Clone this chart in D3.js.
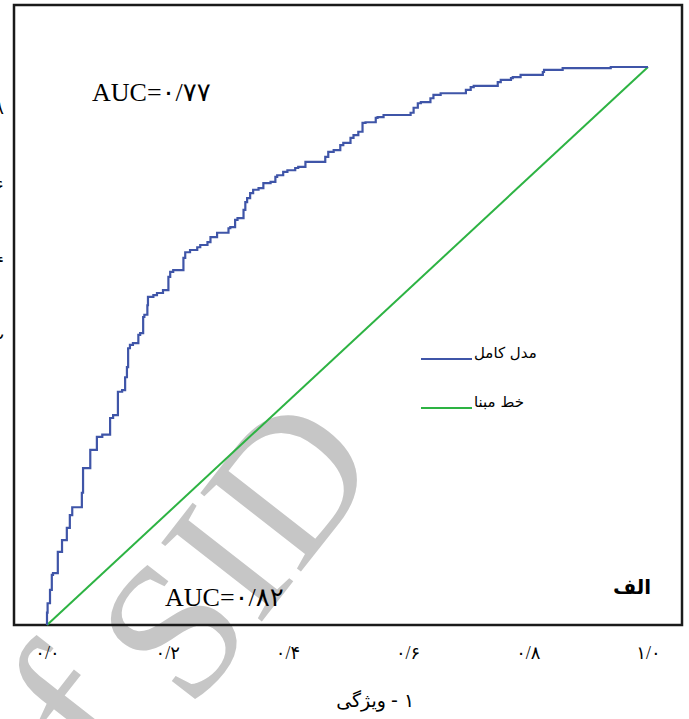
<!DOCTYPE html>
<html>
<head>
<meta charset="utf-8">
<script src="https://cdn.jsdelivr.net/npm/d3@7"></script>
<style>
  body { margin: 0; background: #fff; }
  svg { display: block; }
</style>
</head>
<body>
<div id="chart"></div>
<script>
// ROC data (1 - specificity, sensitivity)
var fpr = [0, 0.001, 0.005, 0.008, 0.010, 0.018, 0.025, 0.033, 0.038, 0.042, 0.050, 0.058, 0.060,
  0.067, 0.072, 0.083, 0.092, 0.105, 0.110, 0.118, 0.125, 0.130, 0.133, 0.135, 0.138, 0.143,
  0.152, 0.155, 0.160, 0.162, 0.167, 0.168, 0.177, 0.183, 0.193, 0.193, 0.202, 0.205, 0.210,
  0.227, 0.230, 0.238, 0.250, 0.255, 0.267, 0.272, 0.283, 0.292, 0.302, 0.305, 0.313, 0.317,
  0.327, 0.330, 0.333, 0.338, 0.343, 0.352, 0.360, 0.372, 0.380, 0.383, 0.393, 0.400, 0.413,
  0.418, 0.430, 0.433, 0.463, 0.468, 0.477, 0.488, 0.493, 0.505, 0.510, 0.518, 0.525, 0.530,
  0.547, 0.550, 0.560, 0.605, 0.610, 0.617, 0.622, 0.638, 0.643, 0.655, 0.697, 0.705, 0.710,
  0.750, 0.755, 0.772, 0.775, 0.788, 0.825, 0.827, 0.858, 0.860, 0.938, 0.942, 1.0];
var tpr = [0, 0.022, 0.039, 0.063, 0.090, 0.093, 0.131, 0.152, 0.174, 0.197, 0.211, 0.211, 0.237,
  0.281, 0.281, 0.314, 0.337, 0.341, 0.371, 0.376, 0.418, 0.421, 0.444, 0.462, 0.496, 0.502,
  0.505, 0.520, 0.523, 0.552, 0.556, 0.573, 0.588, 0.591, 0.595, 0.600, 0.600, 0.624, 0.633,
  0.636, 0.658, 0.668, 0.672, 0.677, 0.681, 0.686, 0.695, 0.703, 0.703, 0.711, 0.713, 0.726,
  0.729, 0.744, 0.758, 0.765, 0.774, 0.780, 0.783, 0.792, 0.794, 0.803, 0.806, 0.812, 0.815,
  0.819, 0.821, 0.830, 0.830, 0.839, 0.848, 0.851, 0.860, 0.864, 0.873, 0.878, 0.884, 0.900,
  0.901, 0.909, 0.910, 0.914, 0.918, 0.927, 0.935, 0.937, 0.944, 0.950, 0.953, 0.959, 0.964,
  0.966, 0.973, 0.977, 0.980, 0.982, 0.986, 0.991, 0.995, 0.998, 0.998, 1.0, 1.0];
var baseline = [0, 1];

var xTicks = [0, 0.2, 0.4, 0.6, 0.8, 1.0];
var xTickLabels = ["۰/۰", "۰/۲", "۰/۴", "۰/۶", "۰/۸", "۱/۰"];
// y labels are cut off at the left edge of the picture
var yTicks = [0.8, 0.6, 0.4, 0.2];
var yTickLabels = ["۰/۸", "۰/۶", "۰/۴", "۰/۲"];

var legendNames = ["مدل کامل", "خط مبنا"];
var legendColors = ["#3f55a8", "#2db343"];
var aucLabels = ["AUC=۰/۷۷", "AUC=۰/۸۲"];
// axis title "ویژگی - ۱", in two pieces so the word stays on the left
var xTitleWord = "ویژگی";
var xTitleRest = "- ۱";
var panelLabel = "الف";

var svgWidth = 689;
var svgHeight = 719;

var svg = d3.select("#chart")
    .append("svg")
    .attr("width", svgWidth)
    .attr("height", svgHeight);

var xScale = d3.scaleLinear().domain([0, 1]).range([47, 648]);
var yScale = d3.scaleLinear().domain([0, 1]).range([625, 67]);
// the clipped label column does not line up with the plot scale
var yLabelScale = d3.scaleLinear().domain([0.2, 0.8]).range([340, 108]);

// watermark behind everything
var wm = svg.append("text")
    .attr("transform", "translate(44, 868) rotate(-52)")
    .attr("font-family", "Liberation Serif")
    .attr("font-size", 215)
    .attr("fill", "#c6c6c6");
wm.append("tspan").text("of ");
wm.append("tspan")
    .attr("dx", -20)
    .attr("dy", 20)
    .attr("font-size", 195)
    .text("SID");

// frame
svg.append("rect")
    .attr("x", 14)
    .attr("y", 5)
    .attr("width", 668)
    .attr("height", 620)
    .attr("fill", "none")
    .attr("stroke", "#1a1a1a")
    .attr("stroke-width", 2.5);

var line = d3.line()
    .x(d => xScale(d[0]))
    .y(d => yScale(d[1]))
    .curve(d3.curveStepBefore);

svg.append("path")
    .datum(baseline.map(v => [v, v]))
    .attr("d", d3.line().x(d => xScale(d[0])).y(d => yScale(d[1])))
    .attr("fill", "none")
    .attr("stroke", legendColors[1])
    .attr("stroke-width", 2);

svg.append("path")
    .datum(fpr.map((v, i) => [v, tpr[i]]))
    .attr("d", line)
    .attr("fill", "none")
    .attr("stroke", legendColors[0])
    .attr("stroke-width", 2.2);

// x axis labels (no tick marks)
var xAxis = d3.axisBottom(xScale)
    .tickValues(xTicks)
    .tickSize(0)
    .tickPadding(0)
    .tickFormat((d, i) => xTickLabels[i]);

var xg = svg.append("g")
    .attr("transform", "translate(0, 646)")
    .call(xAxis);
xg.select(".domain").remove();
xg.selectAll("text")
    .attr("font-family", "Liberation Serif, DejaVu Sans")
    .attr("font-size", 18)
    .attr("fill", "#000")
    .attr("dy", "0.71em");

// clipped y labels
svg.append("g")
    .selectAll("text")
    .data(yTicks)
    .enter()
    .append("text")
    .attr("x", 4)
    .attr("y", d => yLabelScale(d))
    .attr("dy", "0.35em")
    .attr("text-anchor", "end")
    .attr("font-family", "Liberation Serif, DejaVu Sans")
    .attr("font-size", 18)
    .text((d, i) => yTickLabels[i]);

svg.append("text")
    .attr("x", 386)
    .attr("y", 707)
    .attr("text-anchor", "end")
    .attr("font-family", "DejaVu Sans")
    .attr("font-size", 19)
    .text(xTitleWord);

svg.append("text")
    .attr("x", 391)
    .attr("y", 707)
    .attr("font-family", "DejaVu Sans")
    .attr("font-size", 19)
    .text(xTitleRest);

// AUC notes
svg.append("text")
    .attr("x", 92)
    .attr("y", 101)
    .attr("font-family", "Liberation Serif, DejaVu Sans")
    .attr("font-size", 26)
    .text(aucLabels[0]);

svg.append("text")
    .attr("x", 165)
    .attr("y", 606)
    .attr("font-family", "Liberation Serif, DejaVu Sans")
    .attr("font-size", 26)
    .text(aucLabels[1]);

svg.append("text")
    .attr("x", 613)
    .attr("y", 594)
    .attr("font-family", "DejaVu Sans")
    .attr("font-weight", "bold")
    .attr("font-size", 20)
    .text(panelLabel);

// legend
var legend = svg.append("g");
var legendY = d3.scalePoint().domain(legendNames).range([359, 408]);

legend.selectAll("line")
    .data(legendNames)
    .enter()
    .append("line")
    .attr("x1", 421)
    .attr("x2", 472)
    .attr("y1", d => legendY(d))
    .attr("y2", d => legendY(d))
    .attr("stroke", (d, i) => legendColors[i])
    .attr("stroke-width", 2);

legend.selectAll("text")
    .data(legendNames)
    .enter()
    .append("text")
    .attr("x", 474)
    .attr("y", d => legendY(d) - 1)
    .attr("font-family", "DejaVu Sans")
    .attr("font-size", 15)
    .text(d => d);
</script>
</body>
</html>
